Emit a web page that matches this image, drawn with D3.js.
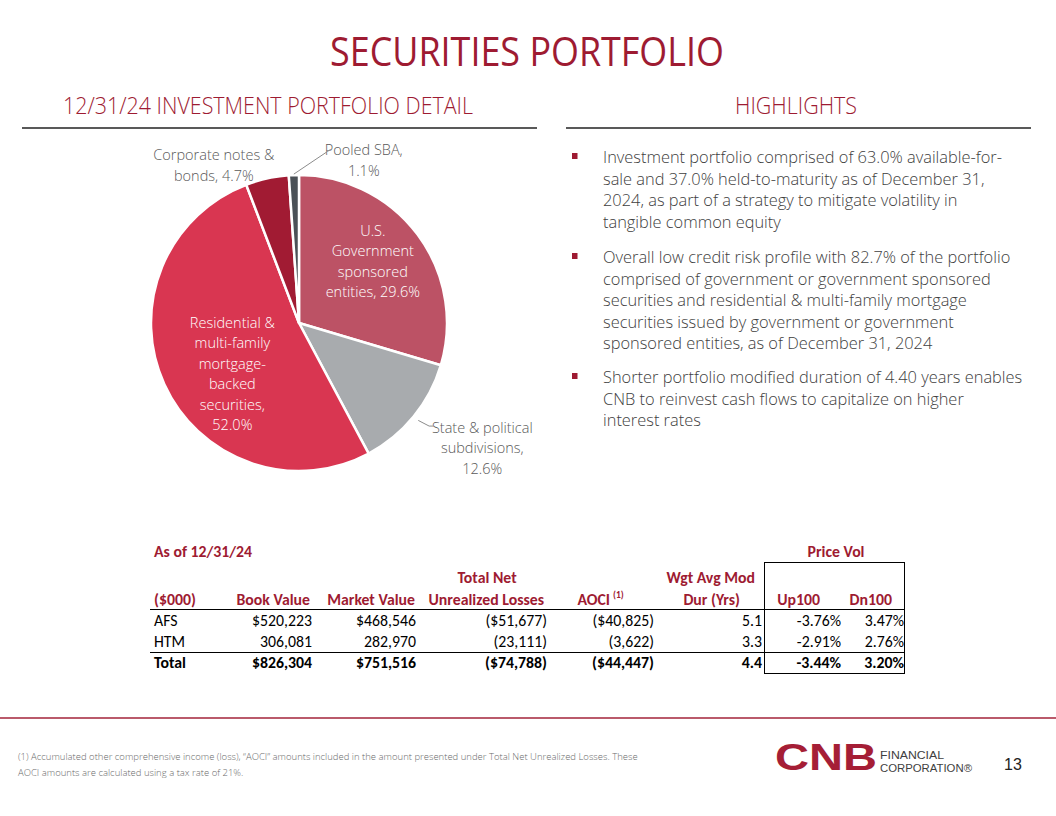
<!DOCTYPE html>
<html>
<head>
<meta charset="utf-8">
<script src="https://cdn.jsdelivr.net/npm/d3@7"></script>
<style>
  html, body { margin: 0; padding: 0; background: #ffffff; }
  svg { display: block; }
</style>
</head>
<body>
<svg id="chart" width="1056" height="816"></svg>
<script>
// ---------------- DATA ----------------
const categories = [
  "U.S. Government sponsored entities",
  "State & political subdivisions",
  "Residential & multi-family mortgage-backed securities",
  "Corporate notes & bonds",
  "Pooled SBA"
];
const shares = [29.6, 12.6, 52.0, 4.7, 1.1];
const sliceLabelLines = [
  ["U.S.", "Government", "sponsored", "entities, 29.6%"],
  ["State & political", "subdivisions,", "12.6%"],
  ["Residential &", "multi-family", "mortgage-", "backed", "securities,", "52.0%"],
  ["Corporate notes &", "bonds, 4.7%"],
  ["Pooled SBA,", "1.1%"]
];
const sliceColors = ["#BC5265", "#A8ABAE", "#D93651", "#A11B33", "#4B5157"];

const bulletLines = [
  ["Investment portfolio comprised of 63.0% available-for-",
   "sale and 37.0% held-to-maturity as of December 31,",
   "2024, as part of a strategy to mitigate volatility in",
   "tangible common equity"],
  ["Overall low credit risk profile with 82.7% of the portfolio",
   "comprised of government or government sponsored",
   "securities and residential & multi-family mortgage",
   "securities issued by government or government",
   "sponsored entities, as of December 31, 2024"],
  ["Shorter portfolio modified duration of 4.40 years enables",
   "CNB to reinvest cash flows to capitalize on higher",
   "interest rates"]
];

const tableRows = ["AFS", "HTM", "Total"];
const bookValue = [520223, 306081, 826304];
const marketValue = [468546, 282970, 751516];
const unrealizedLosses = [-51677, -23111, -74788];
const aoci = [-40825, -3622, -44447];
const modDuration = [5.1, 3.3, 4.4];
const up100 = [-3.76, -2.91, -3.44];
const dn100 = [3.47, 2.76, 3.20];

const footnoteLines = [
  "(1) Accumulated other comprehensive income (loss), \u201CAOCI\u201D amounts included in the amount presented under Total Net Unrealized Losses. These",
  "AOCI amounts are calculated using a tax rate of 21%."
];

// ---------------- DRAW ----------------
const svg = d3.select("#chart");
const RED = "#9E1B32";
const BODY = "'Open Sans', 'Noto Sans', sans-serif";
const TABLEF = "Carlito, Lato, 'Liberation Sans', sans-serif";

// Title
svg.append("text").attr("x", 527).attr("y", 66).attr("text-anchor", "middle")
  .attr("font-family", BODY).attr("font-size", 40).attr("font-weight", 400)
  .attr("fill", RED).attr("textLength", 394).attr("lengthAdjust", "spacingAndGlyphs")
  .text("SECURITIES PORTFOLIO");

// Section headings
svg.append("text").attr("x", 268).attr("y", 114).attr("text-anchor", "middle")
  .attr("font-family", BODY).attr("font-size", 23).attr("font-weight", 300)
  .attr("fill", RED).attr("textLength", 410).attr("lengthAdjust", "spacingAndGlyphs")
  .text("12/31/24 INVESTMENT PORTFOLIO DETAIL");
svg.append("text").attr("x", 796).attr("y", 114).attr("text-anchor", "middle")
  .attr("font-family", BODY).attr("font-size", 23).attr("font-weight", 300)
  .attr("fill", RED).attr("textLength", 122).attr("lengthAdjust", "spacingAndGlyphs")
  .text("HIGHLIGHTS");

svg.append("line").attr("x1", 22).attr("x2", 537).attr("y1", 128).attr("y2", 128)
  .attr("stroke", "#595959").attr("stroke-width", 2);
svg.append("line").attr("x1", 566).attr("x2", 1031).attr("y1", 128).attr("y2", 128)
  .attr("stroke", "#595959").attr("stroke-width", 2);

// ---------------- PIE ----------------
const cx = 299, cy = 323, R = 148;
const pie = d3.pie().sort(null).value(d => d).startAngle(0).endAngle(2 * Math.PI);
const arcs = pie(shares);
const arc = d3.arc().innerRadius(0).outerRadius(R);
const gPie = svg.append("g").attr("transform", `translate(${cx},${cy})`);

gPie.selectAll("path.slice").data(arcs).enter().append("path")
  .attr("class", "slice")
  .attr("d", arc)
  .attr("fill", (d, i) => sliceColors[i])
  .attr("stroke", "#ffffff").attr("stroke-width", 2.5).attr("stroke-linejoin", "round");

const polar = (r, a) => [r * Math.sin(a), -r * Math.cos(a)];
const mid = d => (d.startAngle + d.endAngle) / 2;
const LH = 20.5;

// label layout per slice: radius from centre and angular shift from slice middle
const labelLayout = [
  {inside: true, r: 96, shift: -3},
  {inside: false, r: 222, shift: -4.9},
  {inside: true, r: 84, shift: -13},
  {inside: false, r: 179, shift: -16},
  {inside: false, r: 175, shift: 23.7}
];

arcs.forEach((d, i) => {
  const L = labelLayout[i];
  const a = mid(d) + L.shift * Math.PI / 180;
  const [px, py] = polar(L.r, a);
  const lines = sliceLabelLines[i];
  const y0 = py - (lines.length - 1) * LH / 2;
  const t = gPie.append("text")
    .attr("text-anchor", "middle")
    .attr("font-family", BODY).attr("font-size", 14.5).attr("font-weight", 300)
    .attr("fill", L.inside ? "#ffffff" : "#595959");
  lines.forEach((ln, k) => {
    t.append("tspan").attr("x", px).attr("y", y0 + k * LH).attr("dy", "0.35em").text(ln);
  });
});

// Leader lines
{
  const dS = arcs[4];
  const [x1, y1] = polar(R + 1, mid(dS));
  const [x2, y2] = polar(R + 26, mid(dS) + 0.2);
  gPie.append("polyline").attr("points", `${x1},${y1} ${x2},${y2} ${x2 + 3},${y2 - 2}`)
    .attr("fill", "none").attr("stroke", "#8c8c8c").attr("stroke-width", 1);
  const dT = arcs[1];
  const [a1, b1] = polar(R + 6, mid(dT));
  const [a2, b2] = polar(R + 18, mid(dT) - 0.015);
  gPie.append("polyline").attr("points", `${a1},${b1} ${a2},${b2} ${a2 + 4},${b2}`)
    .attr("fill", "none").attr("stroke", "#8c8c8c").attr("stroke-width", 1);
}

// ---------------- BULLETS ----------------
const bulletStarts = [163, 263, 383];
const bLH = 21.5;
bulletLines.forEach((lines, i) => {
  svg.append("rect").attr("x", 572).attr("y", bulletStarts[i] - 10).attr("width", 5.5).attr("height", 6)
    .attr("fill", RED);
  const t = svg.append("text").attr("font-family", BODY).attr("font-size", 16.4).attr("font-weight", 300)
    .attr("fill", "#404040");
  lines.forEach((ln, k) => {
    t.append("tspan").attr("x", 603).attr("y", bulletStarts[i] + k * bLH).text(ln);
  });
});

// ---------------- TABLE ----------------
const gT = svg.append("g").attr("font-family", TABLEF).attr("font-size", 15.8);
const fmtN = d3.format(",");
const money = (v, dollar) => {
  const s = (dollar ? "$" : "") + fmtN(Math.abs(v));
  return v < 0 ? "(" + s + ")" : s;
};
const pct = v => (v < 0 ? "-" : "") + d3.format(".2f")(Math.abs(v)) + "%";

gT.append("text").attr("x", 154).attr("y", 557).attr("font-weight", 700).attr("fill", RED).text("As of 12/31/24");
gT.append("text").attr("x", 836).attr("y", 557).attr("text-anchor", "middle").attr("font-weight", 700).attr("fill", RED).text("Price Vol");

const hdr = (x, y, txt, anchor) => gT.append("text").attr("x", x).attr("y", y)
  .attr("text-anchor", anchor || "end").attr("font-weight", 700).attr("fill", RED).text(txt);
hdr(487, 583, "Total Net", "middle");
hdr(755, 583, "Wgt Avg Mod");
hdr(154, 605, "($000)", "start");
hdr(310, 605, "Book Value");
hdr(415, 605, "Market Value");
hdr(544, 605, "Unrealized Losses");
hdr(610, 605, "AOCI");
gT.append("text").attr("x", 613).attr("y", 598).attr("font-weight", 700).attr("font-size", 9.5).attr("fill", RED).text("(1)");
hdr(740, 605, "Dur (Yrs)");
hdr(820, 605, "Up100");
hdr(892, 605, "Dn100");

const rowY = [626, 647, 668];
tableRows.forEach((r, i) => {
  const bold = i === 2 ? 700 : 400;
  const dollar = i !== 1;
  const cell = (x, txt, anchor) => gT.append("text").attr("x", x).attr("y", rowY[i])
    .attr("text-anchor", anchor || "end").attr("font-weight", bold).attr("fill", "#000").text(txt);
  cell(154, r, "start");
  cell(312, money(bookValue[i], dollar));
  cell(416, money(marketValue[i], dollar));
  cell(547, money(unrealizedLosses[i], dollar));
  cell(654, money(aoci[i], dollar));
  cell(762, d3.format(".1f")(modDuration[i]));
  cell(841, pct(up100[i]));
  cell(904, pct(dn100[i]));
});

const hl = (x1, x2, y) => gT.append("line").attr("x1", x1).attr("x2", x2).attr("y1", y).attr("y2", y)
  .attr("stroke", "#000").attr("stroke-width", 1);
const vl = (x, y1, y2) => gT.append("line").attr("x1", x).attr("x2", x).attr("y1", y1).attr("y2", y2)
  .attr("stroke", "#000").attr("stroke-width", 1);
hl(150, 905, 609.5);
hl(150, 905, 652.5);
hl(764, 905, 562.5);
hl(764, 905, 673.5);
vl(764.5, 562, 674);
vl(904.5, 562, 674);

// ---------------- FOOTER ----------------
svg.append("line").attr("x1", 0).attr("x2", 1056).attr("y1", 718).attr("y2", 718)
  .attr("stroke", "#A3233A").attr("stroke-width", 1.5);

const fn = svg.append("text").attr("font-family", BODY).attr("font-size", 9.5).attr("font-weight", 300).attr("fill", "#6b6b6b");
footnoteLines.forEach((ln, k) => fn.append("tspan").attr("x", 18).attr("y", 760 + k * 16).text(ln));

svg.append("text").attr("x", 775).attr("y", 770)
  .attr("font-family", "'Liberation Sans', Arial, sans-serif").attr("font-weight", 700).attr("font-size", 36)
  .attr("fill", "#A51E36").attr("textLength", 102).attr("lengthAdjust", "spacingAndGlyphs").text("CNB");
svg.append("text").attr("x", 880).attr("y", 759)
  .attr("font-family", "'Liberation Sans', Arial, sans-serif").attr("font-size", 11.5)
  .attr("fill", "#3f3f3f").attr("textLength", 64).attr("lengthAdjust", "spacingAndGlyphs").text("FINANCIAL");
svg.append("text").attr("x", 880).attr("y", 772)
  .attr("font-family", "'Liberation Sans', Arial, sans-serif").attr("font-size", 11.5)
  .attr("fill", "#3f3f3f").attr("textLength", 92).attr("lengthAdjust", "spacingAndGlyphs").text("CORPORATION\u00AE");
svg.append("text").attr("x", 1004).attr("y", 770)
  .attr("font-family", "'Liberation Sans', Arial, sans-serif").attr("font-size", 16)
  .attr("fill", "#222").text("13");
</script>
</body>
</html>
